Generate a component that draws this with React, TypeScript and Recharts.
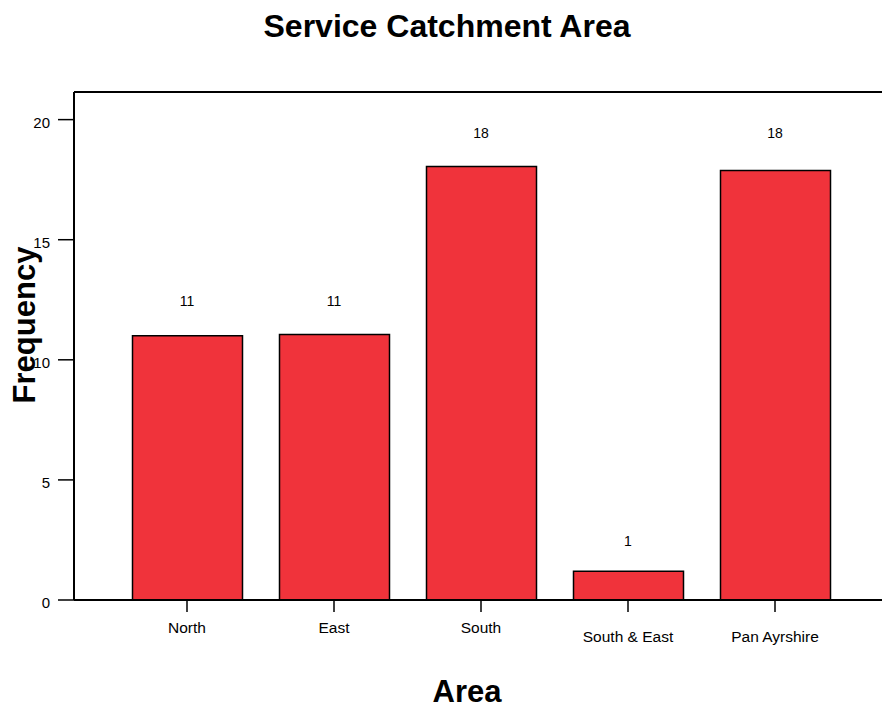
import React from "react"
import {
    ComposedChart,
    Bar,
    Line,
    XAxis,
    YAxis,
    LabelList,
    Label,
    ReferenceLine,
} from "recharts"

const categories = ["North", "East", "South", "South & East", "Pan Ayrshire"]
const counts = [11, 11, 18, 1, 18]
// bar heights as drawn in the picture (slightly off the printed counts)
const barHeights = [11, 11.05, 18.05, 1.2, 17.88]
const yTicks = [0, 5, 10, 15, 20]
const yMax = 21.15

const data = categories.map((name, i) => ({
    name,
    height: barHeights[i],
    count: counts[i],
}))

const FONT = "'Liberation Sans', Arial, sans-serif"
const RED = "#F0333B"

function XTick(props: any) {
    const { x, y, payload } = props
    const twoWords = String(payload.value).includes(" ")
    return (
        <text
            x={x}
            y={y}
            dy={twoWords ? 28 : 19}
            textAnchor="middle"
            fill="#000"
            fontSize={15.5}
            fontFamily={FONT}
        >
            {payload.value}
        </text>
    )
}

function YTick(props: any) {
    const { x, y, payload } = props
    return (
        <text
            x={x}
            y={y}
            dy={8}
            textAnchor="end"
            fill="#000"
            fontSize={15}
            fontFamily={FONT}
        >
            {payload.value}
        </text>
    )
}

export default function App() {
    return (
        <div style={{ position: "absolute", left: 0, top: 0, width: 882, height: 709, background: "#fff" }}>
            <div
                style={{
                    position: "absolute",
                    left: 12,
                    top: 10,
                    width: 870,
                    textAlign: "center",
                    fontFamily: FONT,
                    fontWeight: "bold",
                    fontSize: 32,
                    lineHeight: "32px",
                    color: "#000",
                }}
            >
                Service Catchment Area
            </div>
            <ComposedChart
                width={882}
                height={709}
                data={data}
                margin={{ top: 92, right: 0, bottom: 69, left: 0 }}
            >
                <XAxis
                    dataKey="name"
                    interval={0}
                    height={40}
                    padding={{ left: 39.5, right: 33.5 }}
                    tickSize={12}
                    tickMargin={2}
                    axisLine={{ stroke: "#000", strokeWidth: 2 }}
                    tickLine={{ stroke: "#000", strokeWidth: 1.5 }}
                    tick={<XTick />}
                >
                    <Label
                        content={() => (
                            <text
                                x={467}
                                y={702}
                                textAnchor="middle"
                                fontSize={31}
                                fontWeight="bold"
                                fontFamily={FONT}
                                fill="#000"
                            >
                                Area
                            </text>
                        )}
                    />
                </XAxis>
                <YAxis
                    width={74}
                    domain={[0, yMax]}
                    ticks={yTicks}
                    interval={0}
                    tickSize={16}
                    tickMargin={8}
                    axisLine={{ stroke: "#000", strokeWidth: 2 }}
                    tickLine={{ stroke: "#000", strokeWidth: 1.5 }}
                    tick={<YTick />}
                >
                    <Label
                        content={() => (
                            <text
                                x={35}
                                y={325}
                                transform="rotate(-90, 35, 325)"
                                textAnchor="middle"
                                fontSize={31}
                                fontWeight="bold"
                                fontFamily={FONT}
                                fill="#000"
                            >
                                Frequency
                            </text>
                        )}
                    />
                </YAxis>
                <ReferenceLine y={yMax} stroke="#000" strokeWidth={2} />
                <Bar
                    dataKey="height"
                    barSize={110}
                    fill={RED}
                    stroke="#000"
                    strokeWidth={1.5}
                    isAnimationActive={false}
                />
                <Line
                    dataKey="count"
                    stroke="none"
                    dot={false}
                    activeDot={false}
                    isAnimationActive={false}
                >
                    <LabelList
                        dataKey="count"
                        position="top"
                        offset={30}
                        fill="#000"
                        fontSize={14}
                        fontFamily={FONT}
                    />
                </Line>
            </ComposedChart>
        </div>
    )
}
